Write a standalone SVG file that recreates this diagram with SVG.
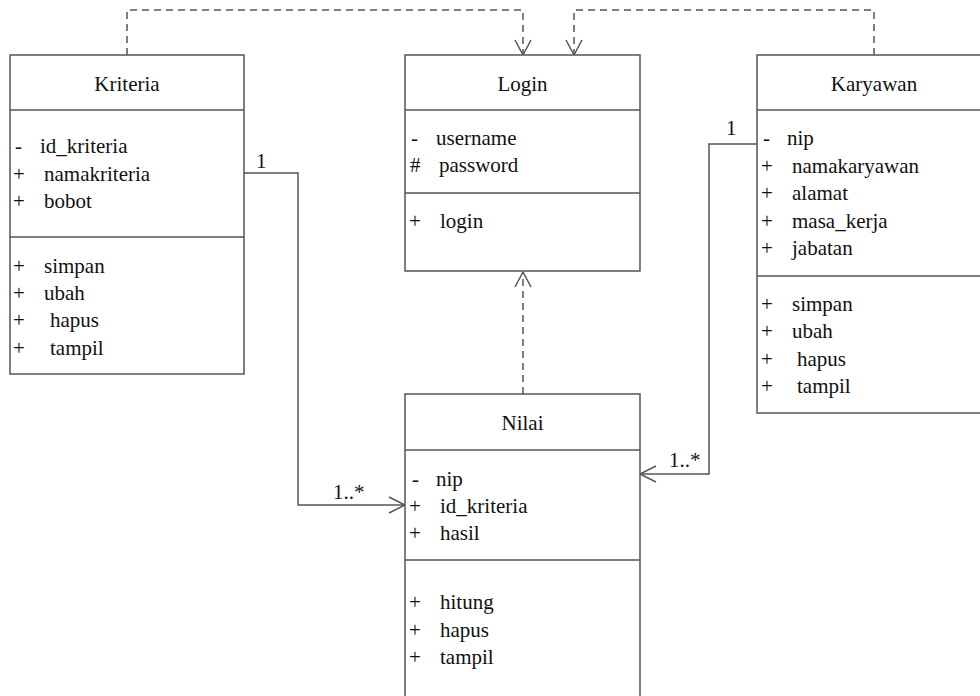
<svg xmlns="http://www.w3.org/2000/svg" width="980" height="696" viewBox="0 0 980 696">
<rect width="980" height="696" fill="#fff"/>
<g id="connectors" fill="none" stroke="#555" stroke-width="1.5">
<path stroke-dasharray="7,5" d="M127,55 V10 H523 V54"/>
<path d="M515,40 L523,55 L531,40"/>
<path stroke-dasharray="7,5" d="M874,55 V10 H574 V54"/>
<path d="M566,40 L574,55 L582,40"/>
<path stroke-dasharray="7,5" d="M523,394 V272"/>
<path d="M515,287 L523,272 L531,287"/>
<path d="M244,173 H298 V505 H404"/>
<path d="M389,497 L405,505 L389,513"/>
<path d="M757,144 H709 V474 H641"/>
<path d="M656,466 L640,474 L656,482"/>
</g>
<g id="labels">
<text font-family="Liberation Serif" font-size="21" fill="#111" x="256" y="168">1</text>
<text font-family="Liberation Serif" font-size="21" fill="#111" x="333" y="499">1..*</text>
<text font-family="Liberation Serif" font-size="21" fill="#111" x="726" y="135">1</text>
<text font-family="Liberation Serif" font-size="21" fill="#111" x="669" y="467">1..*</text>
</g>
<g id="kriteria">
<rect fill="#fff" stroke="#555" stroke-width="1.5" x="10" y="55" width="234" height="319"/>
<path fill="none" stroke="#555" stroke-width="1.5" d="M10,110 H244 M10,237 H244"/>
<text font-family="Liberation Serif" font-size="21" fill="#111" text-anchor="middle" x="127" y="91">Kriteria</text>
<text font-family="Liberation Serif" font-size="21" fill="#111" x="15" y="153">-</text>
<text font-family="Liberation Serif" font-size="21" fill="#111" x="40" y="153">id_kriteria</text>
<text font-family="Liberation Serif" font-size="21" fill="#111" x="13" y="181">+</text>
<text font-family="Liberation Serif" font-size="21" fill="#111" x="44" y="181">namakriteria</text>
<text font-family="Liberation Serif" font-size="21" fill="#111" x="13" y="208">+</text>
<text font-family="Liberation Serif" font-size="21" fill="#111" x="44" y="208">bobot</text>
<text font-family="Liberation Serif" font-size="21" fill="#111" x="13" y="273">+</text>
<text font-family="Liberation Serif" font-size="21" fill="#111" x="44" y="273">simpan</text>
<text font-family="Liberation Serif" font-size="21" fill="#111" x="13" y="300">+</text>
<text font-family="Liberation Serif" font-size="21" fill="#111" x="44" y="300">ubah</text>
<text font-family="Liberation Serif" font-size="21" fill="#111" x="13" y="327">+</text>
<text font-family="Liberation Serif" font-size="21" fill="#111" x="50" y="327">hapus</text>
<text font-family="Liberation Serif" font-size="21" fill="#111" x="13" y="355">+</text>
<text font-family="Liberation Serif" font-size="21" fill="#111" x="50" y="355">tampil</text>
</g>
<g id="login">
<rect fill="#fff" stroke="#555" stroke-width="1.5" x="405" y="55" width="235" height="216"/>
<path fill="none" stroke="#555" stroke-width="1.5" d="M405,110 H640 M405,193 H640"/>
<text font-family="Liberation Serif" font-size="21" fill="#111" text-anchor="middle" x="522.5" y="91">Login</text>
<text font-family="Liberation Serif" font-size="21" fill="#111" x="411" y="145">-</text>
<text font-family="Liberation Serif" font-size="21" fill="#111" x="436" y="145">username</text>
<text font-family="Liberation Serif" font-size="21" fill="#111" x="410" y="172">#</text>
<text font-family="Liberation Serif" font-size="21" fill="#111" x="439" y="172">password</text>
<text font-family="Liberation Serif" font-size="21" fill="#111" x="409" y="228">+</text>
<text font-family="Liberation Serif" font-size="21" fill="#111" x="440" y="228">login</text>
</g>
<g id="karyawan">
<rect fill="#fff" stroke="#555" stroke-width="1.5" x="757" y="55" width="234" height="358"/>
<path fill="none" stroke="#555" stroke-width="1.5" d="M757,110 H991 M757,276 H991"/>
<text font-family="Liberation Serif" font-size="21" fill="#111" text-anchor="middle" x="874" y="91">Karyawan</text>
<text font-family="Liberation Serif" font-size="21" fill="#111" x="763" y="145">-</text>
<text font-family="Liberation Serif" font-size="21" fill="#111" x="787" y="145">nip</text>
<text font-family="Liberation Serif" font-size="21" fill="#111" x="761" y="173">+</text>
<text font-family="Liberation Serif" font-size="21" fill="#111" x="792" y="173">namakaryawan</text>
<text font-family="Liberation Serif" font-size="21" fill="#111" x="761" y="200">+</text>
<text font-family="Liberation Serif" font-size="21" fill="#111" x="792" y="200">alamat</text>
<text font-family="Liberation Serif" font-size="21" fill="#111" x="761" y="228">+</text>
<text font-family="Liberation Serif" font-size="21" fill="#111" x="792" y="228">masa_kerja</text>
<text font-family="Liberation Serif" font-size="21" fill="#111" x="761" y="255">+</text>
<text font-family="Liberation Serif" font-size="21" fill="#111" x="792" y="255">jabatan</text>
<text font-family="Liberation Serif" font-size="21" fill="#111" x="761" y="311">+</text>
<text font-family="Liberation Serif" font-size="21" fill="#111" x="792" y="311">simpan</text>
<text font-family="Liberation Serif" font-size="21" fill="#111" x="761" y="338">+</text>
<text font-family="Liberation Serif" font-size="21" fill="#111" x="792" y="338">ubah</text>
<text font-family="Liberation Serif" font-size="21" fill="#111" x="761" y="366">+</text>
<text font-family="Liberation Serif" font-size="21" fill="#111" x="797" y="366">hapus</text>
<text font-family="Liberation Serif" font-size="21" fill="#111" x="761" y="393">+</text>
<text font-family="Liberation Serif" font-size="21" fill="#111" x="797" y="393">tampil</text>
</g>
<g id="nilai">
<rect fill="#fff" stroke="#555" stroke-width="1.5" x="405" y="394" width="235" height="320"/>
<path fill="none" stroke="#555" stroke-width="1.5" d="M405,450 H640 M405,560 H640"/>
<text font-family="Liberation Serif" font-size="21" fill="#111" text-anchor="middle" x="522.5" y="430">Nilai</text>
<text font-family="Liberation Serif" font-size="21" fill="#111" x="412" y="486">-</text>
<text font-family="Liberation Serif" font-size="21" fill="#111" x="436" y="486">nip</text>
<text font-family="Liberation Serif" font-size="21" fill="#111" x="409" y="513">+</text>
<text font-family="Liberation Serif" font-size="21" fill="#111" x="440" y="513">id_kriteria</text>
<text font-family="Liberation Serif" font-size="21" fill="#111" x="409" y="540">+</text>
<text font-family="Liberation Serif" font-size="21" fill="#111" x="440" y="540">hasil</text>
<text font-family="Liberation Serif" font-size="21" fill="#111" x="409" y="609">+</text>
<text font-family="Liberation Serif" font-size="21" fill="#111" x="440" y="609">hitung</text>
<text font-family="Liberation Serif" font-size="21" fill="#111" x="409" y="637">+</text>
<text font-family="Liberation Serif" font-size="21" fill="#111" x="440" y="637">hapus</text>
<text font-family="Liberation Serif" font-size="21" fill="#111" x="409" y="664">+</text>
<text font-family="Liberation Serif" font-size="21" fill="#111" x="440" y="664">tampil</text>
</g>
</svg>
